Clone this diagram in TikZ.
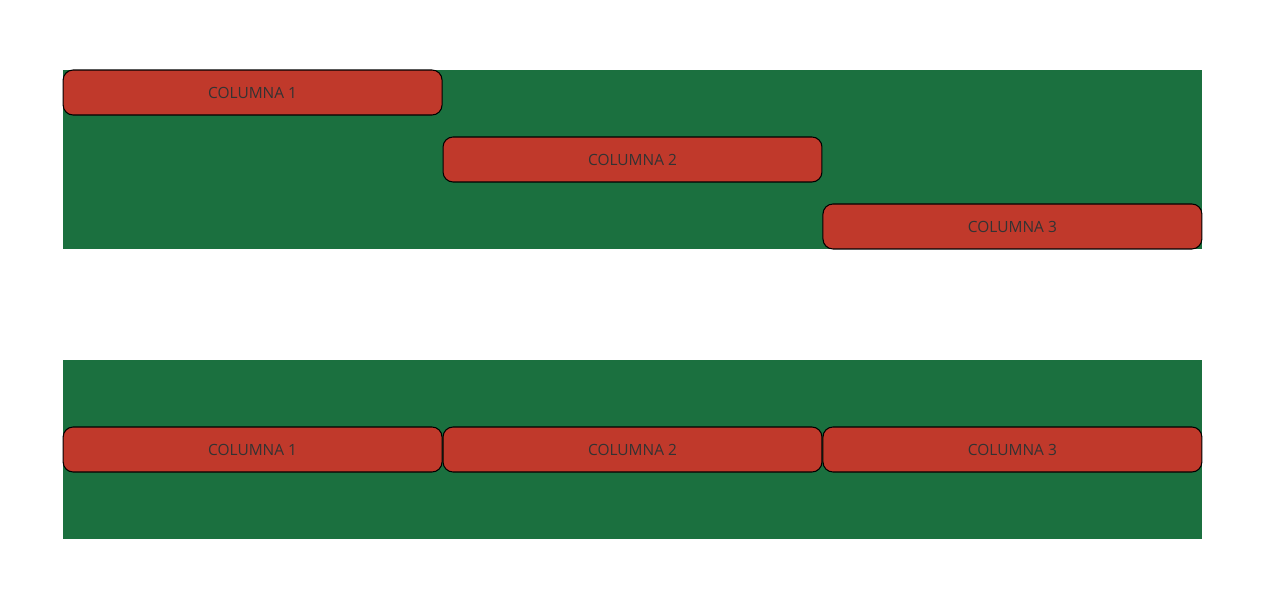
\documentclass[tikz,border=0pt]{standalone}
\usepackage{fontspec}
\setmainfont{Open Sans}
\usetikzlibrary{positioning,calc}
\definecolor{panelgreen}{RGB}{27,112,63}
\definecolor{colred}{RGB}{192,57,43}
\definecolor{coltext}{RGB}{51,51,51}
\def\colwid{7.58cm}
\def\colhgt{0.9cm}
\def\panelwid{22.78cm}
\def\panelhgt{3.58cm}

\begin{document}
\begin{tikzpicture}[
            x=0.02cm, y=-0.02cm,
            panel/.style={%
                rectangle, draw=none, fill=panelgreen,%
                minimum width=\panelwid, minimum height=\panelhgt,%
                inner sep=0pt, outer sep=0pt%
            },
            column/.style={%
                rectangle, rounded corners=0.2cm, draw=black, line width=0.6pt,%
                fill=colred, text=coltext, font=\fontsize{8.8}{10}\selectfont,%
                minimum width=\colwid, minimum height=\colhgt,%
                inner sep=0pt, outer sep=0pt, text centered, anchor=north west%
            }
        ]

        \useasboundingbox (0,0) rectangle (1272,590);

        % Define panels
        \node (panelTop) [panel] at (632.5,159.5) {};
        \node (panelBot) [panel] at (632.5,449.5) {};

        % Staircase columns
        \node (top_1) [column] at (panelTop.north west) {COLUMNA 1};
        \node (top_2) [column] at ($(top_1.south east)+(1,22)$) {COLUMNA 2};
        \node (top_3) [column] at ($(top_2.south east)+(1,22)$) {COLUMNA 3};

        % Row of columns
        \node (bot_1) [column] at ($(panelBot.north west)+(0,67)$) {COLUMNA 1};
        \node (bot_2) [column] at ($(bot_1.north east)+(1,0)$) {COLUMNA 2};
        \node (bot_3) [column] at ($(bot_2.north east)+(1,0)$) {COLUMNA 3};

        \end{tikzpicture}
\end{document}
